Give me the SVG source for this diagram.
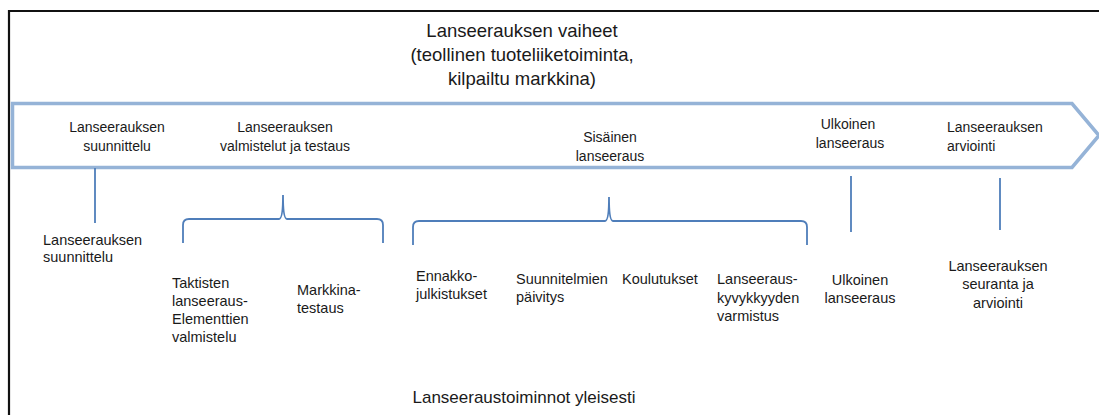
<svg xmlns="http://www.w3.org/2000/svg" width="1099" height="415" viewBox="0 0 1099 415">
  <style>
    .t { font-family: "Liberation Sans", Arial, sans-serif; fill: #1a1a1a; }
    .title { font-size: 18.5px; text-anchor: middle; }
    .foot { font-size: 17px; text-anchor: middle; }
    .phase { font-size: 14px; }
    .act { font-size: 14.5px; }
    .mid { text-anchor: middle; }
    .conn { fill: none; stroke: #4F7EBA; stroke-width: 1.8; }
  </style>
  <rect width="1099" height="415" fill="#ffffff"/>
  <!-- outer frame (open on right and bottom) -->
  <path d="M9 415 V11 H1099" fill="none" stroke="#111" stroke-width="2.2"/>

  <g id="title">
    <text class="t title" x="522" y="37">Lanseerauksen vaiheet</text>
    <text class="t title" x="522" y="61">(teollinen tuoteliiketoiminta,</text>
    <text class="t title" x="522" y="85">kilpailtu markkina)</text>
  </g>

  <!-- phase arrow -->
  <g id="phase-arrow">
    <path d="M12.5 103.5 H1072 L1099 135.5 L1072 167.5 H12.5 Z" fill="#ffffff" stroke="#95B3D7" stroke-width="3.5"/>
  </g>

  <g id="phase-suunnittelu">
    <text class="t phase mid" x="117" y="132">Lanseerauksen</text>
    <text class="t phase mid" x="117" y="151">suunnittelu</text>
  </g>
  <g id="phase-valmistelut">
    <text class="t phase mid" x="285" y="132">Lanseerauksen</text>
    <text class="t phase mid" x="285" y="151">valmistelut ja testaus</text>
  </g>
  <g id="phase-sisainen">
    <text class="t phase mid" x="610" y="142">Sisäinen</text>
    <text class="t phase mid" x="610" y="161">lanseeraus</text>
  </g>
  <g id="phase-ulkoinen">
    <text class="t phase mid" x="848" y="129">Ulkoinen</text>
    <text class="t phase mid" x="850" y="148">lanseeraus</text>
  </g>
  <g id="phase-arviointi">
    <text class="t phase" x="947" y="132">Lanseerauksen</text>
    <text class="t phase" x="947" y="151">arviointi</text>
  </g>

  <!-- connectors and braces -->
  <g id="connectors">
    <line class="conn" x1="95" y1="168" x2="95" y2="223"/>
    <path class="conn" d="M183 243 V225 Q183 219 189 219 H279 Q283 219 283 195 Q283 219 287 219 H377 Q383 219 383 225 V243"/>
    <path class="conn" d="M413 245 V227 Q413 221 419 221 H605 Q609 221 609 197 Q609 221 613 221 H801 Q807 221 807 227 V245"/>
    <line class="conn" x1="851" y1="176" x2="851" y2="232"/>
    <line class="conn" x1="1000" y1="178" x2="1000" y2="230"/>
  </g>

  <g id="act-suunnittelu">
    <text class="t act" x="43" y="245">Lanseerauksen</text>
    <text class="t act" x="43" y="262">suunnittelu</text>
  </g>
  <g id="act-taktisten">
    <text class="t act" x="172" y="288">Taktisten</text>
    <text class="t act" x="172" y="306">lanseeraus-</text>
    <text class="t act" x="172" y="324">Elementtien</text>
    <text class="t act" x="172" y="342">valmistelu</text>
  </g>
  <g id="act-markkinatestaus">
    <text class="t act" x="297" y="295">Markkina-</text>
    <text class="t act" x="297" y="313">testaus</text>
  </g>
  <g id="act-ennakko">
    <text class="t act" x="416" y="281">Ennakko-</text>
    <text class="t act" x="416" y="299">julkistukset</text>
  </g>
  <g id="act-paivitys">
    <text class="t act" x="516" y="284">Suunnitelmien</text>
    <text class="t act" x="516" y="302">päivitys</text>
  </g>
  <g id="act-koulutukset">
    <text class="t act" x="622" y="284">Koulutukset</text>
  </g>
  <g id="act-kyvykkyys">
    <text class="t act" x="717" y="284">Lanseeraus-</text>
    <text class="t act" x="717" y="303">kyvykkyyden</text>
    <text class="t act" x="717" y="321">varmistus</text>
  </g>
  <g id="act-ulkoinen">
    <text class="t act mid" x="860" y="285">Ulkoinen</text>
    <text class="t act mid" x="860" y="303">lanseeraus</text>
  </g>
  <g id="act-seuranta">
    <text class="t act mid" x="998" y="271">Lanseerauksen</text>
    <text class="t act mid" x="998" y="289">seuranta ja</text>
    <text class="t act mid" x="998" y="308">arviointi</text>
  </g>

  <g id="footer">
    <text class="t foot" x="524" y="403">Lanseeraustoiminnot yleisesti</text>
  </g>
</svg>
